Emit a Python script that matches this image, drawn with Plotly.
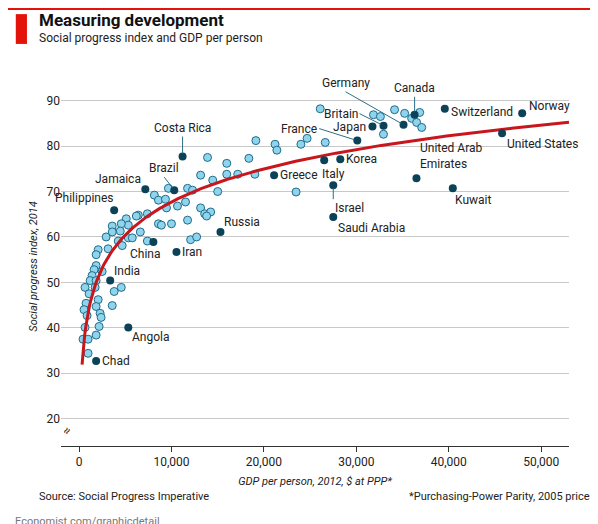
import numpy as np
import plotly.graph_objects as go

FONT = "Liberation Sans Narrow, Roboto, Noto Sans"

# light-blue countries: GDP per person, social progress index
other_gdp = [26090, 19130, 21200, 21400, 24000, 24670, 26630, 13900, 18370, 15980,
             13150, 15980, 17170, 19020, 14460, 15000, 23480, 9670, 11740, 12280,
             8150, 8590, 9350, 9460, 10650, 11520, 13150, 13590, 14240, 13800,
             11740, 10000, 8590, 8910, 7390, 6410, 6200, 5110, 5330, 4570,
             4460, 3590, 3590, 6630, 2930, 5330, 5760, 4240, 4670, 7390,
             12070, 12720, 3150, 2070, 1850, 1850, 1630, 2500, 1410, 1200,
             1850, 650, 1740, 1090, 4570, 3800, 2070, 760, 1850, 3590,
             540, 870, 2280, 2390, 650, 2170, 1850, 430, 980, 980,
             31850, 32600, 32930, 34130, 35220, 35980, 36520, 36850, 37070]
other_spi = [88.2, 81.2, 80.4, 79.1, 80.4, 81.7, 80.8, 77.5, 77.3, 76.2,
             73.6, 73.8, 73.8, 73.8, 72.5, 70.0, 69.9, 70.7, 70.7, 70.3,
             69.2, 68.1, 68.3, 66.4, 66.8, 67.7, 66.4, 65.1, 65.5, 64.6,
             63.7, 62.9, 62.9, 62.6, 65.1, 64.8, 64.6, 64.0, 62.6, 62.9,
             61.3, 62.4, 61.1, 61.1, 60.0, 59.8, 59.8, 59.1, 58.1, 59.1,
             59.4, 60.0, 57.4, 57.2, 56.1, 53.7, 52.8, 52.4, 51.5, 50.4,
             50.4, 48.9, 48.9, 47.5, 48.9, 48.0, 46.2, 45.4, 44.7, 44.9,
             44.0, 42.7, 43.2, 42.3, 40.1, 40.3, 38.4, 37.5, 37.5, 34.4,
             86.9, 86.5, 82.6, 88.0, 87.2, 86.1, 85.2, 87.4, 84.1]

# highlighted countries
names = ["Norway", "United States", "Switzerland", "Canada", "Germany", "Britain",
         "Japan", "France", "Korea", "Italy", "Israel", "Saudi Arabia",
         "United Arab<br>Emirates", "Kuwait", "Greece", "Costa Rica", "Brazil",
         "Jamaica", "Philippines", "China", "Iran", "Russia", "India", "Angola", "Chad"]
named_gdp = [47935, 45760, 39565, 36300, 35100, 32935, 31740, 30100, 28260, 26520,
             27500, 27500, 36500, 40430, 21100, 11200, 10300, 7170, 3800, 8040,
             10540, 15300, 3370, 5330, 1850]
named_spi = [87.2, 82.8, 88.2, 86.9, 84.7, 84.5, 84.3, 81.2, 77.1, 76.9,
             71.4, 64.4, 72.9, 70.7, 73.6, 77.7, 70.3, 70.5, 65.9, 58.9,
             56.7, 61.1, 50.4, 40.1, 32.7]
# label placement: (xanchor, yanchor, xshift, yshift, arrow ax, arrow ay)
label_pos = {
    "Norway": ("left", "bottom", 5, -2, None, None),
    "United States": ("left", "top", 3, -2, None, None),
    "Switzerland": ("left", "top", 4, 6, None, None),
    "Canada": ("center", "bottom", 0, 0, 0, -18),
    "Germany": ("center", "bottom", 0, 0, -58, -33),
    "Britain": ("right", "middle", 0, 0, -24, -12),
    "Japan": ("right", "middle", -4, 0, None, None),
    "France": ("right", "middle", 0, 0, -38, -12),
    "Korea": ("left", "middle", 4, 0, None, None),
    "Italy": ("left", "top", -4, -5, None, None),
    "Israel": ("left", "top", 0, 0, 0, 14),
    "Saudi Arabia": ("left", "top", 3, -2, None, None),
    "United Arab<br>Emirates": ("left", "bottom", 2, 5, None, None),
    "Kuwait": ("left", "top", 0, -3, None, None),
    "Greece": ("left", "middle", 4, 0, None, None),
    "Costa Rica": ("center", "bottom", 0, 0, 0, -20),
    "Brazil": ("center", "bottom", 0, 0, -10, -13),
    "Jamaica": ("right", "bottom", -2, 1, None, None),
    "Philippines": ("right", "bottom", 2, 3, None, None),
    "China": ("center", "top", -8, -3, None, None),
    "Iran": ("left", "middle", 4, 0, None, None),
    "Russia": ("left", "bottom", 2, 1, None, None),
    "India": ("left", "bottom", 2, 1, None, None),
    "Angola": ("left", "top", 2, -1, None, None),
    "Chad": ("left", "middle", 4, 0, None, None),
}

# logarithmic trend line: spi = a + b*ln(gdp)
trend_a, trend_b = -29.0, 10.5
trend_x = np.linspace(330, 53000, 400)
trend_y = trend_a + trend_b * np.log(trend_x)

fig = go.Figure()
fig.add_trace(go.Scatter(x=other_gdp, y=other_spi, mode="markers",
                         marker=dict(size=8, color="#8fd3ec", line=dict(color="#1f6d8a", width=1))))
fig.add_trace(go.Scatter(x=trend_x, y=trend_y, mode="lines", line=dict(color="#c8161d", width=3)))
fig.add_trace(go.Scatter(x=named_gdp, y=named_spi, mode="markers",
                         marker=dict(size=8, color="#0b4257")))

for n, gx, gy in zip(names, named_gdp, named_spi):
    xa, ya, xs, ys, ax, ay = label_pos[n]
    if ax is None:
        fig.add_annotation(x=gx, y=gy, text=n, showarrow=False, xanchor=xa, yanchor=ya,
                           xshift=xs, yshift=ys, align="left")
    else:
        fig.add_annotation(x=gx, y=gy, text=n, showarrow=True, arrowhead=0, arrowwidth=1,
                           arrowcolor="#2a6f89", ax=ax, ay=ay, xanchor=xa, yanchor=ya,
                           standoff=3, align="left")

fig.add_annotation(x=-0.01, y=0.017, xref="paper", yref="paper", text="≈", showarrow=False,
                   textangle=-60, font=dict(size=12))

fig.update_layout(
    width=598, height=524, showlegend=False,
    paper_bgcolor="white", plot_bgcolor="white",
    margin=dict(l=53, r=37, t=79, b=86),
    font=dict(family=FONT, size=12, color="#222"),
    xaxis=dict(range=[-1950, 53000], tickvals=[0, 10000, 20000, 30000, 40000, 50000],
               ticktext=["0", "10,000", "20,000", "30,000", "40,000", "50,000"],
               showgrid=False, zeroline=False, ticks="outside", ticklen=5,
               tickcolor="#333", showline=True, linecolor="#333",
               title=dict(text="<i>GDP per person, 2012, $ at PPP*</i>", font=dict(size=11), standoff=8)),
    yaxis=dict(range=[14, 93], tickvals=[20, 30, 40, 50, 60, 70, 80, 90],
               showgrid=True, gridcolor="#c8c8c8", zeroline=False, ticks="",
               title=dict(text="<i>Social progress index, 2014</i>", font=dict(size=11), standoff=6)),
    shapes=[
        dict(type="rect", xref="paper", yref="paper", x0=-0.089, x1=-0.067, y0=1.12, y1=1.203,
             fillcolor="#e3120b", line_width=0),
        dict(type="line", xref="paper", yref="paper", x0=-0.11, x1=1.08, y0=1.217, y1=1.217,
             line=dict(color="#e3120b", width=2)),
    ],
)
fig.add_annotation(x=-0.047, y=1.187, xref="paper", yref="paper", xanchor="left", yanchor="middle",
                   text="<b>Measuring development</b>", showarrow=False, font=dict(size=17, color="#111"))
fig.add_annotation(x=-0.047, y=1.136, xref="paper", yref="paper", xanchor="left", yanchor="middle",
                   text="Social progress index and GDP per person", showarrow=False, font=dict(size=12))
fig.add_annotation(x=-0.047, y=-0.142, xref="paper", yref="paper", xanchor="left", yanchor="middle",
                   text="Source: Social Progress Imperative", showarrow=False, font=dict(size=11))
fig.add_annotation(x=1.057, y=-0.142, xref="paper", yref="paper", xanchor="right", yanchor="middle",
                   text="*Purchasing-Power Parity, 2005 prices", showarrow=False, font=dict(size=11))
fig.add_annotation(x=-0.094, y=-0.209, xref="paper", yref="paper", xanchor="left", yanchor="middle",
                   text="Economist.com/graphicdetail", showarrow=False, font=dict(size=11, color="#777"))

fig.write_html("out.html")
